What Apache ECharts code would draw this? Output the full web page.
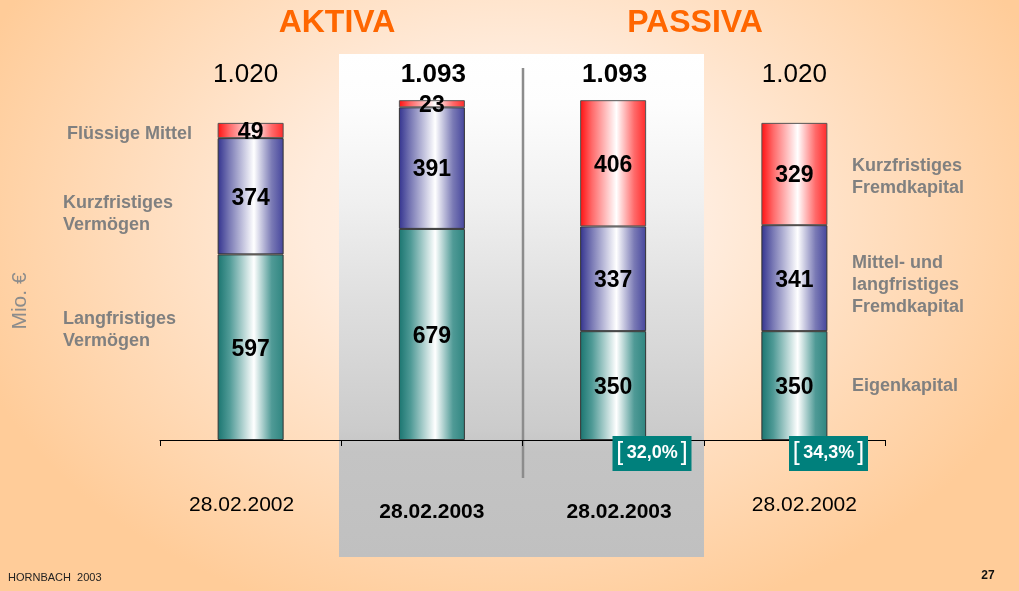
<!DOCTYPE html>
<html>
<head>
<meta charset="utf-8">
<script src="https://cdn.jsdelivr.net/npm/echarts@6/dist/echarts.min.js"></script>
<style>
	html, body { margin: 0; padding: 0; }
	body {
		background: radial-gradient(ellipse 56% 72% at 50% 36%, #fff6ef 0%, #ffecdd 35%, #ffcc99 100%);
	}
	#chart { width: 1019px; height: 591px; }
</style>
</head>
<body>
<div id="chart"></div>
<script>
// Bilanz HORNBACH: Aktiva / Passiva (Mio. €)
var keys = [ 'A2002', 'A2003', 'P2003', 'P2002' ];
var dates = [ '28.02.2002', '28.02.2003', '28.02.2003', '28.02.2002' ];

// unten: Langfristiges Vermögen / Eigenkapital
var bottomVals = [ 597, 679, 350, 350 ];
// mitte: Kurzfristiges Vermögen / Mittel- und langfristiges Fremdkapital
var midVals = [ 374, 391, 337, 341 ];
// oben: Flüssige Mittel / Kurzfristiges Fremdkapital
var topVals = [ 49, 23, 406, 329 ];

var totals = [];
for (var i = 0; i < keys.length; i++) {
	totals.push(bottomVals[i] + midVals[i] + topVals[i]);
}

function fmtTotal(v) {
	return (v / 1000).toFixed(3);
}
function fmtPct(v) {
	return (v * 100).toFixed(1).replace('.', ',') + '%';
}

var FONT = "'Liberation Sans', Arial, sans-serif";

function barGrad(edgeL, mid, edgeR) {
	return new echarts.graphic.LinearGradient(0, 0, 1, 0, [
		{ offset : 0, color : edgeL },
		{ offset : 0.18, color : mid },
		{ offset : 0.55, color : '#ffffff' },
		{ offset : 0.82, color : mid },
		{ offset : 1, color : edgeR }
	]);
}

var labelStyle = {
	show : true,
	position : 'inside',
	offset : [ 0, 2 ],
	color : '#000',
	fontFamily : FONT,
	fontWeight : 'bold',
	fontSize : 23
};

var chart = echarts.init(document.getElementById('chart'));

var greyFont = 'bold 18px ' + FONT;

var graphics = [
	// grauer Kasten hinter 2003
	{
		type : 'rect',
		z : -10,
		shape : { x : 339, y : 54, width : 365, height : 503 },
		style : {
			fill : new echarts.graphic.LinearGradient(0, 0, 0, 1, [
				{ offset : 0, color : '#ffffff' },
				{ offset : 0.1, color : '#fdfdfd' },
				{ offset : 0.29, color : '#f0f0f0' },
				{ offset : 0.49, color : '#dfdfdf' },
				{ offset : 0.75, color : '#cbcbcb' },
				{ offset : 0.79, color : '#c4c4c4' },
				{ offset : 1, color : '#c0c0c0' }
			])
		}
	},
	// Trennlinie
	{
		type : 'line',
		z : -5,
		shape : { x1 : 523, y1 : 68, x2 : 523, y2 : 478 },
		style : { stroke : '#8c8c8c', lineWidth : 2.5 }
	},
	{
		type : 'text', x : 337, y : 23,
		style : { text : 'AKTIVA', fill : '#ff6600', font : 'bold 32px ' + FONT, textAlign : 'center', textVerticalAlign : 'middle' }
	},
	{
		type : 'text', x : 695, y : 23,
		style : { text : 'PASSIVA', fill : '#ff6600', font : 'bold 32px ' + FONT, textAlign : 'center', textVerticalAlign : 'middle' }
	},
	{
		type : 'text', x : 20, y : 301, rotation : Math.PI / 2,
		style : { text : 'Mio. €', fill : '#8c8c8c', font : '21px ' + FONT, textAlign : 'center', textVerticalAlign : 'middle' }
	},
	// linke Beschriftungen
	{ type : 'text', x : 67, y : 134, style : { text : 'Flüssige Mittel', fill : '#808080', font : greyFont, textVerticalAlign : 'middle' } },
	{ type : 'text', x : 63, y : 214, style : { text : 'Kurzfristiges\nVermögen', fill : '#808080', font : greyFont, lineHeight : 22, textVerticalAlign : 'middle' } },
	{ type : 'text', x : 63, y : 330, style : { text : 'Langfristiges\nVermögen', fill : '#808080', font : greyFont, lineHeight : 22, textVerticalAlign : 'middle' } },
	// rechte Beschriftungen
	{ type : 'text', x : 852, y : 177, style : { text : 'Kurzfristiges\nFremdkapital', fill : '#808080', font : greyFont, lineHeight : 22, textVerticalAlign : 'middle' } },
	{ type : 'text', x : 852, y : 285, style : { text : 'Mittel- und\nlangfristiges\nFremdkapital', fill : '#808080', font : greyFont, lineHeight : 22, textVerticalAlign : 'middle' } },
	{ type : 'text', x : 852, y : 386, style : { text : 'Eigenkapital', fill : '#808080', font : greyFont, textVerticalAlign : 'middle' } },
	// Fußzeile
	{ type : 'text', x : 8, y : 578, style : { text : 'HORNBACH  2003', fill : '#222', font : '11px ' + FONT, textVerticalAlign : 'middle' } },
	{ type : 'text', x : 988, y : 576, style : { text : '27', fill : '#111', font : 'bold 12px ' + FONT, textAlign : 'center', textVerticalAlign : 'middle' } }
];

// Eigenkapitalquote
var pctBoxes = [ { idx : 2, cx : 652 }, { idx : 3, cx : 828.5 } ];
for (var j = 0; j < pctBoxes.length; j++) {
	var b = pctBoxes[j];
	graphics.push({
		type : 'rect',
		z : 10,
		shape : { x : b.cx - 39.5, y : 436, width : 79, height : 35 },
		style : { fill : '#00807c' }
	});
	graphics.push({
		type : 'text',
		z : 11,
		x : b.cx,
		y : 453.5,
		style : {
			text : '{br|[}{sp| }{v|' + fmtPct(bottomVals[b.idx] / totals[b.idx]) + '}{br|]}',
			textAlign : 'center',
			textVerticalAlign : 'middle',
			rich : {
				br : { fill : '#ffffff', fontSize : 25, fontFamily : FONT, fontWeight : 'lighter' },
				sp : { fill : '#ffffff', fontSize : 12, fontFamily : FONT },
				v : { fill : '#ffffff', fontSize : 18, fontFamily : FONT, fontWeight : 'bold', padding : [ 0, 3, 0, 0 ] }
			}
		}
	});
}

var option = {
	backgroundColor : 'transparent',
	animation : false,
	grid : {
		left : 160,
		right : 134,
		top : 98,
		bottom : 151
	},
	xAxis : [ {
		type : 'category',
		data : keys,
		position : 'bottom',
		axisLine : { lineStyle : { color : '#000', width : 1 } },
		axisTick : { show : true, length : 6, lineStyle : { color : '#000' } },
		axisLabel : {
			margin : 55,
			formatter : function(v, idx) {
				return '{s' + idx + '|' + dates[idx] + '}';
			},
			rich : {
				s0 : { fontSize : 21, fontFamily : FONT, color : '#000', padding : [ 0, 18, 0, 0 ] },
				s1 : { fontSize : 21, fontFamily : FONT, fontWeight : 'bold', color : '#000', padding : [ 7, 0, 0, 0 ] },
				s2 : { fontSize : 21, fontFamily : FONT, fontWeight : 'bold', color : '#000', padding : [ 7, 0, 0, 12 ] },
				s3 : { fontSize : 21, fontFamily : FONT, color : '#000', padding : [ 0, 0, 0, 20 ] }
			}
		}
	}, {
		type : 'category',
		data : keys,
		position : 'top',
		axisLine : { show : false },
		axisTick : { show : false },
		axisLabel : {
			margin : 10,
			formatter : function(v, idx) {
				return '{t' + idx + '|' + fmtTotal(totals[idx]) + '}';
			},
			rich : {
				t0 : { fontSize : 26, fontFamily : FONT, color : '#000', padding : [ 0, 10, 0, 0 ] },
				t1 : { fontSize : 26, fontFamily : FONT, fontWeight : 'bold', color : '#000', padding : [ 0, 0, 0, 3 ] },
				t2 : { fontSize : 26, fontFamily : FONT, fontWeight : 'bold', color : '#000', padding : [ 0, 0, 0, 3 ] },
				t3 : { fontSize : 26, fontFamily : FONT, color : '#000' }
			}
		}
	} ],
	yAxis : {
		type : 'value',
		min : 0,
		max : 1100,
		show : false
	},
	series : [ {
		name : 'Langfristiges Vermögen / Eigenkapital',
		type : 'bar',
		stack : 'bilanz',
		barWidth : 66,
		data : bottomVals,
		label : labelStyle,
		itemStyle : {
			color : barGrad('#1a7570', '#4f9a96', '#2f8580'),
			borderColor : '#333',
			borderWidth : 1
		}
	}, {
		name : 'Kurzfristiges Vermögen / Mittel- und langfristiges Fremdkapital',
		type : 'bar',
		stack : 'bilanz',
		barWidth : 66,
		data : midVals,
		label : labelStyle,
		itemStyle : {
			color : barGrad('#33338f', '#7a7ab5', '#45459c'),
			borderColor : '#333',
			borderWidth : 1
		}
	}, {
		name : 'Flüssige Mittel / Kurzfristiges Fremdkapital',
		type : 'bar',
		stack : 'bilanz',
		barWidth : 66,
		data : topVals,
		label : labelStyle,
		itemStyle : {
			color : barGrad('#ff1010', '#ff6a6a', '#ff2a2a'),
			borderColor : '#555',
			borderWidth : 1
		}
	} ],
	graphic : graphics
};

chart.setOption(option);
</script>
</body>
</html>
